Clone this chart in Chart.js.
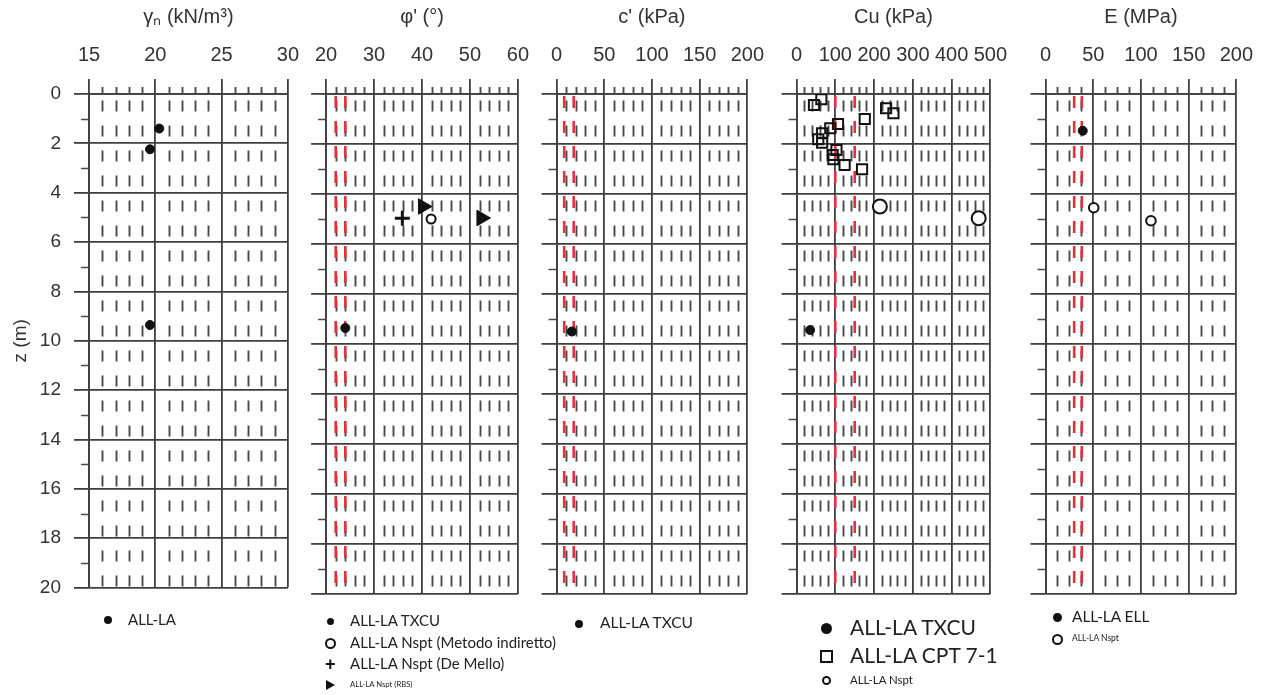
<!DOCTYPE html>
<html>
<head>
<meta charset="UTF-8">
<title>ALL-LA - parametri geotecnici</title>
<script src="https://cdn.jsdelivr.net/npm/chart.js@4"></script>
<style>
  body { margin: 0; background: #fff; width: 1274px; height: 695px; position: relative; overflow: hidden; font-family: Lato, 'Liberation Sans', sans-serif; }
  canvas { position: absolute; top: 0; }
  .lg { position: absolute; color: #222; white-space: nowrap; line-height: 1; }
  .mk { position: absolute; box-sizing: border-box; }
  .dot { border-radius: 50%; background: #111; }
  .ring { border-radius: 50%; border: 2px solid #111; background: #fff; }
  .box { border: 2px solid #111; background: #fff; }
  .tri { width: 0; height: 0; border-left: 9px solid #111; border-top: 5px solid transparent; border-bottom: 5px solid transparent; }
  .plus { font: bold 18px 'Liberation Sans', sans-serif; color: #111; line-height: 1; }
</style>
</head>
<body>
<canvas id="gamma"></canvas>
<canvas id="phi"></canvas>
<canvas id="coes"></canvas>
<canvas id="cu"></canvas>
<canvas id="modE"></canvas>
<script>
// depth labels on the shared z axis (m)
const depthTicks = [0, 2, 4, 6, 8, 10, 12, 14, 16, 18, 20];

// unit weight, ALL-LA
const gammaLA = [20.3, 19.6, 19.6];
const gammaLAz = [1.4, 2.24, 9.36];

// friction angle
const phiTxcu = [24.0];
const phiTxcuZ = [9.36];
const phiIndiretto = [41.9];
const phiIndirettoZ = [5.0];
const phiDeMello = [35.9];
const phiDeMelloZ = [4.97];
const phiRbs = [40.2, 52.4];
const phiRbsZ = [4.5, 4.96];
const phiRef = [22, 24];

// effective cohesion
const cTxcu = [16];
const cTxcuZ = [9.5];
const cRef = [8, 18];

// undrained shear strength
const cuTxcu = [35];
const cuTxcuZ = [9.44];
const cuCpt = [64, 45, 231, 250, 176, 107, 87, 66, 56, 66, 103, 93, 95, 124, 169];
const cuCptZ = [0.21, 0.44, 0.57, 0.77, 1.0, 1.2, 1.37, 1.57, 1.81, 1.95, 2.24, 2.44, 2.61, 2.84, 3.01];
const cuNspt = [215, 470];
const cuNsptZ = [4.5, 4.97];
const cuRef = [100, 150];

// elastic modulus
const eEll = [39];
const eEllZ = [1.47];
const eNspt = [50.5, 110.5];
const eNsptZ = [4.55, 5.07];
const eRef = [30, 38];

const INK = '#111';
const GRID = '#3f3f3f';

const pts = (xs, zs) => xs.map((v, i) => ({ x: v, y: zs[i] }));

function marker(data, style, extra) {
  return Object.assign({
    data, pointStyle: style, pointRadius: 4.5, pointHoverRadius: 4.5,
    backgroundColor: INK, borderColor: INK, borderWidth: 1, order: 1
  }, extra || {});
}
const dots = d => marker(d, 'circle');
const rings = (d, r) => marker(d, 'circle', { pointRadius: r, backgroundColor: '#fff', borderWidth: 2 });

// red dashed reference verticals
function refLines(values) {
  return values.map(v => ({
    data: [{ x: v, y: 0 }, { x: v, y: 20 }],
    showLine: true, fill: false, pointRadius: 0,
    borderColor: '#e3323c', borderWidth: 2.6,
    borderDash: [12, 13], borderDashOffset: -2, order: 2
  }));
}

// dashed minor verticals, short ticks on the top edge and odd-metre ticks on the left
const minorGrid = {
  id: 'minorGrid',
  beforeDatasetsDraw(chart, args, opts) {
    const { ctx, chartArea: a } = chart;
    const x = chart.scales.x, y = chart.scales.y;
    ctx.save();
    ctx.strokeStyle = '#4a4a4a';
    ctx.lineWidth = 1.9;
    const seg = (x1, y1, x2, y2) => { ctx.beginPath(); ctx.moveTo(x1, y1); ctx.lineTo(x2, y2); ctx.stroke(); };
    const n = Math.round((x.max - x.min) / opts.minor);
    for (let i = 1; i < n; i++) {
      const v = x.min + i * opts.minor;
      const r = v / opts.major;
      if (Math.abs(r - Math.round(r)) < 1e-6) continue;
      const px = Math.round(x.getPixelForValue(v)) + 0.5;
      ctx.setLineDash([11, 14]);
      ctx.lineDashOffset = -6.5;
      seg(px, a.top, px, a.bottom);
      ctx.setLineDash([]);
      seg(px, a.top - 7, px, a.top);
    }
    ctx.lineWidth = 1.5;
    for (let z = 1; z < 20; z += 2) {
      const py = Math.round(y.getPixelForValue(z)) + 0.5;
      seg(a.left - 8, py, a.left, py);
    }
    ctx.restore();
  }
};

const panels = [
  { id: 'gamma', left: 89, right: 289, min: 15, max: 30, major: 5, minor: 1, title: 'γₙ (kN/m³)', first: true,
    sets: [dots(pts(gammaLA, gammaLAz))] },
  { id: 'phi', left: 319, right: 519, min: 20, max: 60, major: 10, minor: 2, title: "φ' (°)",
    sets: [
      dots(pts(phiTxcu, phiTxcuZ)),
      rings(pts(phiIndiretto, phiIndirettoZ), 4.5),
      marker(pts(phiDeMello, phiDeMelloZ), 'cross', { pointRadius: 7.5, borderWidth: 3 }),
      marker(pts(phiRbs, phiRbsZ), 'triangle', { pointRadius: 9, rotation: 90 }),
      ...refLines(phiRef)
    ] },
  { id: 'coes', left: 555, right: 754, min: 0, max: 200, major: 50, minor: 10, title: "c' (kPa)",
    sets: [dots(pts(cTxcu, cTxcuZ)), ...refLines(cRef)] },
  { id: 'cu', left: 795, right: 997, min: 0, max: 500, major: 100, minor: 20, title: 'Cu (kPa)',
    sets: [
      dots(pts(cuTxcu, cuTxcuZ)),
      marker(pts(cuCpt, cuCptZ), 'rect', { pointRadius: 7.2, backgroundColor: 'rgba(0,0,0,0)', borderWidth: 2 }),
      rings(pts(cuNspt, cuNsptZ), 7),
      ...refLines(cuRef)
    ] },
  { id: 'modE', left: 1044, right: 1243, min: 0, max: 200, major: 50, minor: 12.5, title: 'E (MPa)',
    sets: [dots(pts(eEll, eEllZ)), rings(pts(eNspt, eNsptZ), 4.8), ...refLines(eRef)] }
];

const AXIS_FONT = "'Liberation Sans', Arial, sans-serif";
const TOP = 94, BOTTOM = 594, H = 612, PAD_R = 22;

panels.forEach(p => {
  const yW = p.first ? p.left : 16;
  const canvas = document.getElementById(p.id);
  canvas.width = yW + (p.right - p.left) + PAD_R;
  canvas.height = H;
  canvas.style.left = (p.left - yW) + 'px';

  new Chart(canvas, {
    type: 'scatter',
    data: { datasets: p.sets },
    options: {
      responsive: false,
      animation: false,
      layout: { padding: { left: 0, right: PAD_R, top: 0, bottom: H - BOTTOM } },
      plugins: {
        legend: { display: false },
        tooltip: { enabled: false },
        minorGrid: { major: p.major, minor: p.minor }
      },
      scales: {
        x: {
          type: 'linear', position: 'top', min: p.min, max: p.max,
          ticks: { stepSize: p.major, autoSkip: false, maxRotation: 0, color: '#333', padding: 12,
                   font: { family: AXIS_FONT, size: 20 } },
          grid: { color: GRID, lineWidth: 1.8, tickLength: 15, drawTicks: true },
          border: { color: GRID, width: 1.8 },
          title: { display: true, text: p.title, color: '#333', padding: { top: 5, bottom: 0 },
                   font: { family: AXIS_FONT, size: 20 } },
          afterFit: s => { s.height = TOP; }
        },
        y: {
          type: 'linear', position: 'left', min: 0, max: 20, reverse: true,
          afterBuildTicks: s => { s.ticks = depthTicks.map(v => ({ value: v })); },
          ticks: { display: !!p.first, color: '#333', padding: 13, font: { family: AXIS_FONT, size: 19 } },
          grid: { color: GRID, lineWidth: 1.8, tickLength: 15, drawTicks: true },
          border: { color: GRID, width: 1.8 },
          title: { display: !!p.first, text: 'z (m)', color: '#333', padding: { top: 9, bottom: 0 },
                   font: { family: AXIS_FONT, size: 19 } },
          afterFit: s => { s.width = yW; }
        }
      }
    },
    plugins: [minorGrid]
  });
});

// legends under each panel
const legendRows = [
  { mx: 108, my: 620, kind: 'dot', size: 8, tx: 128, font: 15, text: 'ALL-LA' },
  { mx: 330, my: 621, kind: 'dot', size: 7, tx: 350, font: 15, text: 'ALL-LA TXCU' },
  { mx: 330, my: 643, kind: 'ring', size: 11, tx: 350, font: 15, text: 'ALL-LA Nspt (Metodo indiretto)' },
  { mx: 330, my: 664, kind: 'plus', size: 12, tx: 350, font: 15, text: 'ALL-LA Nspt (De Mello)' },
  { mx: 330, my: 685, kind: 'tri', size: 10, tx: 350, font: 7.7, text: 'ALL-LA Nspt (RBS)' },
  { mx: 579, my: 624, kind: 'dot', size: 8, tx: 600, font: 15.5, text: 'ALL-LA TXCU' },
  { mx: 826, my: 628, kind: 'dot', size: 11, tx: 850, font: 21, text: 'ALL-LA TXCU' },
  { mx: 826, my: 656, kind: 'box', size: 13, tx: 850, font: 21, text: 'ALL-LA CPT 7-1' },
  { mx: 826, my: 680, kind: 'ring', size: 9, tx: 850, font: 11.4, text: 'ALL-LA Nspt' },
  { mx: 1057, my: 617, kind: 'dot', size: 9, tx: 1072, font: 15.4, text: 'ALL-LA ELL' },
  { mx: 1057, my: 639, kind: 'ring', size: 11, tx: 1072, font: 8.5, text: 'ALL-LA Nspt' }
];

legendRows.forEach(r => {
  const mk = document.createElement('div');
  mk.className = 'mk ' + r.kind;
  if (r.kind === 'plus') {
    mk.textContent = '+';
    mk.style.left = (r.mx - 5) + 'px';
    mk.style.top = (r.my - 9) + 'px';
  } else if (r.kind === 'tri') {
    mk.style.left = (r.mx - 4) + 'px';
    mk.style.top = (r.my - 5) + 'px';
  } else {
    mk.style.width = mk.style.height = r.size + 'px';
    mk.style.left = (r.mx - r.size / 2) + 'px';
    mk.style.top = (r.my - r.size / 2) + 'px';
  }
  document.body.appendChild(mk);

  const t = document.createElement('div');
  t.className = 'lg';
  t.textContent = r.text;
  t.style.fontSize = r.font + 'px';
  t.style.left = r.tx + 'px';
  t.style.top = (r.my - r.font * 0.55) + 'px';
  document.body.appendChild(t);
});
</script>
</body>
</html>
